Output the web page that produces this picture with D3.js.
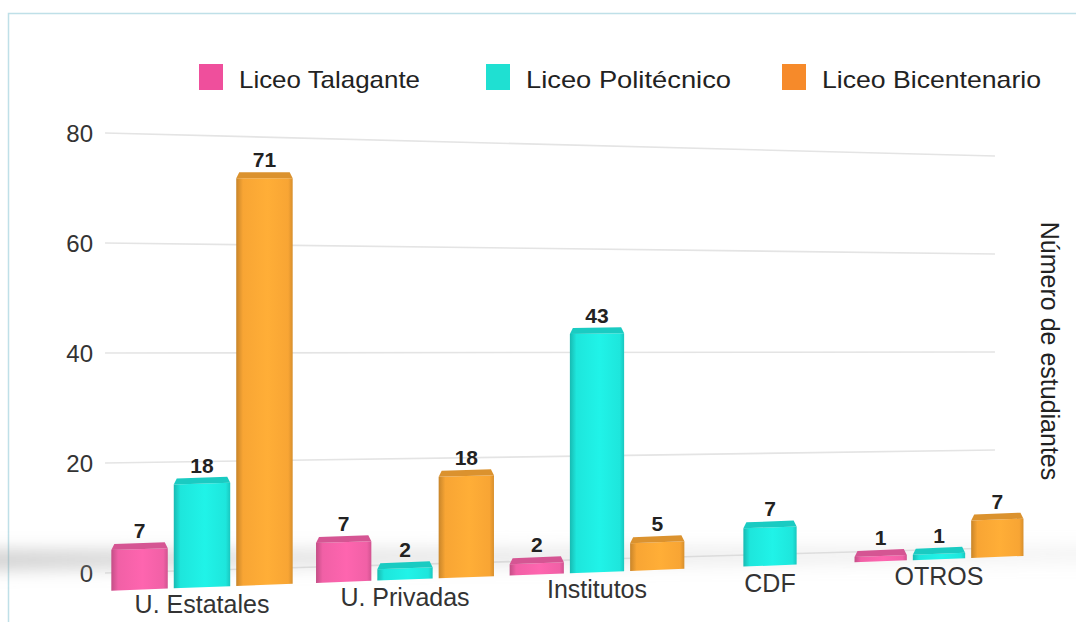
<!DOCTYPE html>
<html>
<head>
<meta charset="utf-8">
<script src="https://cdn.jsdelivr.net/npm/d3@7"></script>
<style>
  body { margin: 0; background: #fff; }
  svg { display: block; font-family: "Liberation Sans", Arial, sans-serif; }
</style>
</head>
<body>
<div class="container"></div>
<script>
// datos
const categorias = ["U. Estatales", "U. Privadas", "Institutos", "CDF", "OTROS"]
const series = ["Liceo Talagante", "Liceo Politécnico", "Liceo Bicentenario"]
const talagante = [7, 7, 2, 0, 1]
const politecnico = [18, 2, 43, 7, 1]
const bicentenario = [71, 18, 5, 0, 7]
const yTicks = [0, 20, 40, 60, 80]

const valores = [talagante, politecnico, bicentenario]
const colores = ["#f160a6", "#1ee6dc", "#f8a534"]
const coloresLeyenda = ["#ef4f9c", "#1fe0d2", "#f68a2a"]

const WIDTH = 1076, HEIGHT = 622

const svg = d3.select(".container")
    .append("svg")
    .attr("width", WIDTH)
    .attr("height", HEIGHT)

const defs = svg.append("defs")
defs.append("filter").attr("id", "blur")
    .attr("x", "-20%").attr("y", "-400%").attr("width", "140%").attr("height", "900%")
    .append("feGaussianBlur").attr("stdDeviation", 9)

const sombraGrad = defs.append("linearGradient").attr("id", "sombraGrad")
sombraGrad.append("stop").attr("offset", "0%").attr("stop-color", "#9a9a9a").attr("stop-opacity", 0.6)
sombraGrad.append("stop").attr("offset", "30%").attr("stop-color", "#a8a8a8").attr("stop-opacity", 0.4)
sombraGrad.append("stop").attr("offset", "100%").attr("stop-color", "#b8b8b8").attr("stop-opacity", 0.25)

colores.forEach((c, i) => {
    const g = defs.append("linearGradient").attr("id", "grad" + i)
    const base = d3.color(c)
    g.append("stop").attr("offset", "0%").attr("stop-color", base.darker(0.6))
    g.append("stop").attr("offset", "12%").attr("stop-color", base)
    g.append("stop").attr("offset", "55%").attr("stop-color", base.brighter(0.15))
    g.append("stop").attr("offset", "92%").attr("stop-color", base)
    g.append("stop").attr("offset", "100%").attr("stop-color", base.darker(0.4))
})

// marco
svg.append("rect")
    .attr("x", 8.5).attr("y", 13.5)
    .attr("width", 1200).attr("height", 800)
    .attr("fill", "none")
    .attr("stroke", "#bfe0e8")
    .attr("stroke-width", 1.5)

// perspectiva: escalas del plano de la grilla (izquierda / derecha)
const xLeft = 105, xRight = 995
const tx = d3.scaleLinear().domain([xLeft, xRight]).range([0, 1])
const gridLeft = d3.scaleLinear().domain([0, 80]).range([573, 133])
const gridRight = d3.scaleLinear().domain([0, 80]).range([548, 156])
// plano frontal de las barras
const barLeft = d3.scaleLinear().domain([0, 80]).range([591, 126])
const barRight = d3.scaleLinear().domain([0, 80]).range([557, 130])
const barY = (v, x) => d3.interpolateNumber(barLeft(v), barRight(v))(tx(x))

const xGroup = d3.scaleLinear().domain([0, 1, 2, 3, 4]).range([202, 405, 597, 770, 939])
const barW = d3.scaleLinear().domain([xLeft, xRight]).range([57, 52])
const gap = 6

// grilla
const grid = svg.append("g").attr("class", "grid")
grid.selectAll("line")
    .data(yTicks)
    .join("line")
    .attr("x1", xLeft)
    .attr("y1", d => gridLeft(d))
    .attr("x2", xRight)
    .attr("y2", d => gridRight(d))
    .attr("stroke", "#e4e4e4")
    .attr("stroke-width", 1.6)

grid.selectAll("text")
    .data(yTicks)
    .join("text")
    .attr("x", 93)
    .attr("y", d => gridLeft(d) + 9)
    .attr("text-anchor", "end")
    .style("font-size", "24px")
    .attr("fill", "#333")
    .text(d => d)

// sombra del piso
const sombraPts = [[-20, 552], [1096, 549], [1096, 559], [-20, 568]]
svg.append("path")
    .attr("d", d3.line()(sombraPts) + "Z")
    .attr("fill", "url(#sombraGrad)")
    .attr("filter", "url(#blur)")

// barras
const datos = []
categorias.forEach((cat, ci) => {
    series.forEach((s, si) => {
        const v = valores[si][ci]
        if (v === 0) return
        const cx = xGroup(ci)
        const w = barW(cx)
        const x0 = cx + (si - 1) * (w + gap) - w / 2
        datos.push({ cat, si, v, x0, x1: x0 + w })
    })
})

const barras = svg.append("g").attr("class", "barras")
const depthX = 3, depthY = 6

barras.selectAll(".frente")
    .data(datos)
    .join("path")
    .attr("class", "frente")
    .attr("d", d => d3.line()([
        [d.x0, barY(d.v, d.x0)], [d.x1, barY(d.v, d.x1)],
        [d.x1, barY(0, d.x1)], [d.x0, barY(0, d.x0)]
    ]) + "Z")
    .attr("fill", d => `url(#grad${d.si})`)

barras.selectAll(".tapa")
    .data(datos)
    .join("path")
    .attr("class", "tapa")
    .attr("d", d => d3.line()([
        [d.x0, barY(d.v, d.x0)], [d.x1, barY(d.v, d.x1)],
        [d.x1 - depthX, barY(d.v, d.x1) - depthY], [d.x0 + depthX, barY(d.v, d.x0) - depthY]
    ]) + "Z")
    .attr("fill", d => d3.color(colores[d.si]).darker(0.35))

barras.selectAll("text")
    .data(datos)
    .join("text")
    .attr("x", d => (d.x0 + d.x1) / 2)
    .attr("y", d => barY(d.v, (d.x0 + d.x1) / 2) - 11)
    .attr("text-anchor", "middle")
    .style("font-size", "21px")
    .style("font-weight", "bold")
    .attr("fill", "#222")
    .text(d => d.v)

// etiquetas de categorias
svg.append("g").selectAll("text")
    .data(categorias)
    .join("text")
    .attr("x", (_, i) => xGroup(i))
    .attr("y", (_, i) => barY(0, xGroup(i)) + 26)
    .attr("text-anchor", "middle")
    .style("font-size", "25px")
    .attr("fill", "#333")
    .text(d => d)

// leyenda
const leyendaX = [199, 486, 782]
const leyendaAncho = [181, 205, 219]
const leyenda = svg.append("g").attr("class", "leyenda")
leyenda.selectAll("rect")
    .data(series)
    .join("rect")
    .attr("x", (_, i) => leyendaX[i])
    .attr("y", 64)
    .attr("width", 24)
    .attr("height", 26)
    .attr("fill", (_, i) => coloresLeyenda[i])
leyenda.selectAll("text")
    .data(series)
    .join("text")
    .attr("x", (_, i) => leyendaX[i] + 40)
    .attr("y", 88)
    .attr("textLength", (_, i) => leyendaAncho[i])
    .attr("lengthAdjust", "spacingAndGlyphs")
    .style("font-size", "24px")
    .attr("fill", "#222")
    .text(d => d)

// titulo eje
svg.append("text")
    .attr("transform", "translate(1041 351) rotate(90)")
    .attr("text-anchor", "middle")
    .style("font-size", "25px")
    .attr("fill", "#222")
    .text("Número de estudiantes")
</script>
</body>
</html>
